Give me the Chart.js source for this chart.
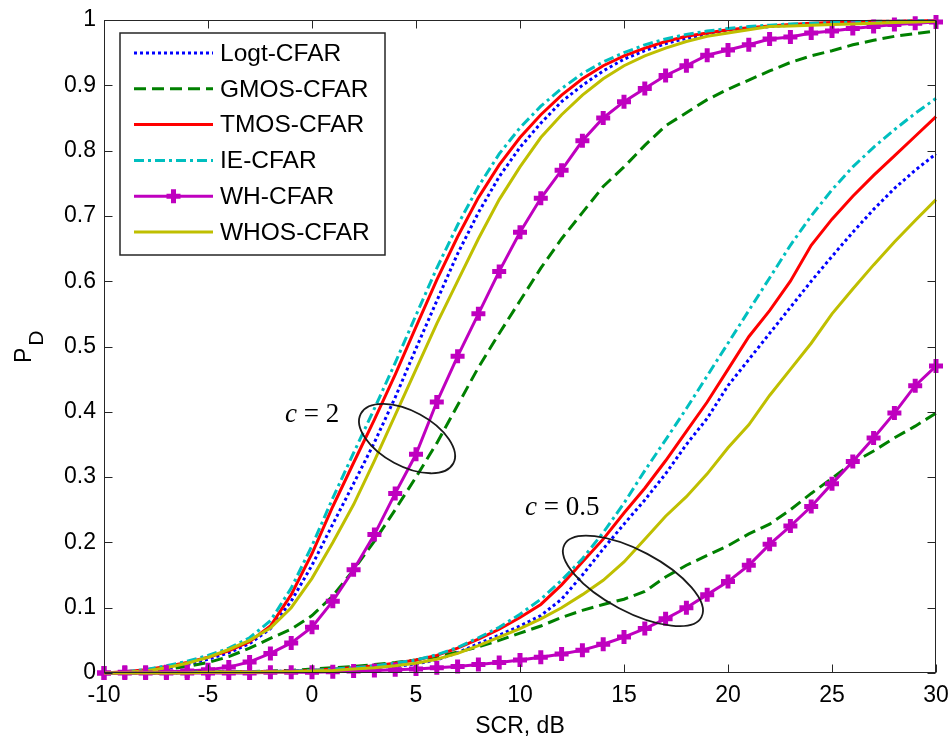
<!DOCTYPE html>
<html>
<head>
<meta charset="utf-8">
<script src="https://cdn.jsdelivr.net/npm/chart.js@4.4.1/dist/chart.umd.min.js"></script>
<style>
  html, body { margin: 0; padding: 0; background: #fff; }
  canvas { display: block; }
</style>
</head>
<body>
<canvas id="pdChart" width="952" height="742"></canvas>
<script>
// SCR grid (dB), one sample per dB
const snr = [-10, -9, -8, -7, -6, -5, -4, -3, -2, -1, 0, 1, 2, 3, 4, 5, 6, 7, 8, 9, 10,
  11, 12, 13, 14, 15, 16, 17, 18, 19, 20, 21, 22, 23, 24, 25, 26, 27, 28, 29, 30];

const xTicks = [-10, -5, 0, 5, 10, 15, 20, 25, 30];
const yTicks = [0, 0.1, 0.2, 0.3, 0.4, 0.5, 0.6, 0.7, 0.8, 0.9, 1];

const detectors = ['Logt-CFAR', 'GMOS-CFAR', 'TMOS-CFAR', 'IE-CFAR', 'WH-CFAR', 'WHOS-CFAR'];

// c = 2
const logtC2 = [0, 0.001, 0.003, 0.007, 0.013, 0.021, 0.031, 0.045, 0.068, 0.11,
  0.165, 0.228, 0.29, 0.353, 0.422, 0.497, 0.57, 0.642, 0.705, 0.76, 0.805,
  0.842, 0.875, 0.9, 0.922, 0.94, 0.953, 0.964, 0.972, 0.978, 0.983,
  0.987, 0.99, 0.992, 0.994, 0.995, 0.996, 0.997, 0.998, 0.998, 0.999];
const gmosC2 = [0, 0.001, 0.003, 0.006, 0.01, 0.016, 0.025, 0.038, 0.053, 0.067,
  0.088, 0.118, 0.158, 0.202, 0.25, 0.3, 0.352, 0.41, 0.468, 0.52, 0.57,
  0.62, 0.665, 0.705, 0.745, 0.775, 0.808, 0.838, 0.858, 0.878, 0.894,
  0.908, 0.922, 0.935, 0.945, 0.953, 0.962, 0.969, 0.975, 0.979, 0.983];
const tmosC2 = [0, 0.002, 0.005, 0.01, 0.016, 0.024, 0.034, 0.048, 0.072, 0.12,
  0.183, 0.255, 0.322, 0.388, 0.457, 0.53, 0.602, 0.668, 0.728, 0.778, 0.82,
  0.855, 0.885, 0.91, 0.93, 0.945, 0.957, 0.967, 0.975, 0.98, 0.985,
  0.988, 0.991, 0.993, 0.995, 0.996, 0.997, 0.998, 0.998, 0.999, 0.999];
const ieC2 = [0, 0.002, 0.005, 0.011, 0.018, 0.027, 0.038, 0.054, 0.08, 0.13,
  0.195, 0.268, 0.337, 0.405, 0.475, 0.548, 0.62, 0.686, 0.745, 0.795, 0.835,
  0.868, 0.895, 0.918, 0.936, 0.95, 0.962, 0.971, 0.978, 0.983, 0.987,
  0.99, 0.992, 0.994, 0.995, 0.996, 0.997, 0.998, 0.998, 0.999, 0.999];
const whC2 = [0, 0.001, 0.001, 0.002, 0.003, 0.005, 0.009, 0.017, 0.03, 0.046,
  0.07, 0.11, 0.158, 0.212, 0.275, 0.335, 0.415, 0.485, 0.55, 0.615, 0.675,
  0.727, 0.77, 0.815, 0.85, 0.875, 0.895, 0.915, 0.93, 0.946, 0.954,
  0.962, 0.971, 0.974, 0.98, 0.983, 0.987, 0.99, 0.993, 0.995, 0.997];
const whosC2 = [0, 0.001, 0.003, 0.008, 0.015, 0.024, 0.036, 0.05, 0.069, 0.1,
  0.145, 0.2, 0.258, 0.325, 0.395, 0.465, 0.535, 0.6, 0.665, 0.725, 0.775,
  0.82, 0.855, 0.885, 0.91, 0.93, 0.945, 0.957, 0.967, 0.975, 0.98,
  0.985, 0.99, 0.991, 0.992, 0.993, 0.994, 0.995, 0.996, 0.997, 0.998];

// c = 0.5
const logtC05 = [0, 0, 0, 0, 0.001, 0.001, 0.001, 0.002, 0.002, 0.003,
  0.004, 0.005, 0.007, 0.009, 0.01, 0.014, 0.02, 0.031, 0.045, 0.058, 0.072,
  0.088, 0.113, 0.15, 0.19, 0.228, 0.265, 0.305, 0.35, 0.39, 0.44,
  0.48, 0.52, 0.56, 0.6, 0.638, 0.675, 0.71, 0.742, 0.77, 0.795];
const gmosC05 = [0, 0, 0, 0, 0.001, 0.001, 0.002, 0.002, 0.003, 0.004,
  0.006, 0.008, 0.01, 0.013, 0.016, 0.02, 0.025, 0.032, 0.04, 0.05, 0.061,
  0.072, 0.085, 0.096, 0.105, 0.113, 0.125, 0.147, 0.165, 0.18, 0.195,
  0.213, 0.228, 0.25, 0.275, 0.298, 0.322, 0.34, 0.36, 0.378, 0.398];
const tmosC05 = [0, 0, 0, 0, 0.001, 0.001, 0.001, 0.002, 0.002, 0.003,
  0.004, 0.006, 0.008, 0.011, 0.015, 0.02, 0.027, 0.038, 0.052, 0.067, 0.085,
  0.105, 0.135, 0.17, 0.205, 0.245, 0.283, 0.325, 0.37, 0.415, 0.465,
  0.515, 0.555, 0.6, 0.655, 0.695, 0.73, 0.762, 0.792, 0.822, 0.852];
const ieC05 = [0, 0, 0, 0, 0.001, 0.001, 0.001, 0.002, 0.002, 0.003,
  0.004, 0.006, 0.008, 0.011, 0.015, 0.02, 0.028, 0.039, 0.054, 0.07, 0.09,
  0.113, 0.142, 0.175, 0.215, 0.26, 0.31, 0.357, 0.405, 0.455, 0.505,
  0.555, 0.605, 0.655, 0.7, 0.74, 0.775, 0.805, 0.832, 0.857, 0.88];
const whC05 = [0, 0, 0, 0, 0, 0, 0, 0, 0.001, 0.001,
  0.001, 0.002, 0.003, 0.004, 0.005, 0.006, 0.008, 0.01, 0.013, 0.016, 0.02,
  0.024, 0.029, 0.035, 0.044, 0.055, 0.068, 0.083, 0.1, 0.12, 0.14,
  0.165, 0.197, 0.225, 0.255, 0.29, 0.324, 0.36, 0.398, 0.44, 0.47];
const whosC05 = [0, 0, 0, 0, 0, 0.001, 0.001, 0.001, 0.002, 0.002,
  0.003, 0.004, 0.006, 0.008, 0.011, 0.015, 0.021, 0.03, 0.042, 0.055, 0.068,
  0.083, 0.1, 0.12, 0.142, 0.17, 0.205, 0.24, 0.27, 0.305, 0.345,
  0.38, 0.425, 0.465, 0.505, 0.55, 0.588, 0.625, 0.66, 0.693, 0.725];

const seriesC2 = [logtC2, gmosC2, tmosC2, ieC2, whC2, whosC2];
const seriesC05 = [logtC05, gmosC05, tmosC05, ieC05, whC05, whosC05];

// matlab-ish line styles, same order as detectors
const styles = [
  { color: '#0000ff', dash: [3, 3] },
  { color: '#008000', dash: [12, 6] },
  { color: '#ff0000', dash: [] },
  { color: '#00bfbf', dash: [10, 4, 3, 4] },
  { color: '#bf00bf', dash: [], marker: true },
  { color: '#bfbf00', dash: [] }
];

function makeDataset(label, values, st, idx) {
  return {
    label,
    data: snr.map((s, i) => ({ x: s, y: values[i] })),
    borderColor: st.color,
    backgroundColor: st.color,
    borderWidth: 3,
    borderDash: st.dash,
    tension: 0,
    clip: false,
    order: -idx,
    pointStyle: 'cross',
    pointRadius: st.marker ? 7 : 0,
    pointBorderWidth: 5,
    pointHoverRadius: st.marker ? 7 : 0,
    pointBorderColor: st.color
  };
}

const datasets = [];
detectors.forEach((name, i) => datasets.push(makeDataset(name, seriesC2[i], styles[i], i)));
detectors.forEach((name, i) => datasets.push(makeDataset(name + ' (c=0.5)', seriesC05[i], styles[i], i + 6)));

const FRAME = '#262626';

const framePlugin = {
  id: 'frame',
  afterDatasetsDraw(chart) {
    const { ctx, chartArea: a, scales: { x, y } } = chart;
    const L = Math.round(a.left) + 0.5, R = Math.round(a.right) - 0.5;
    const T = Math.round(a.top) + 0.5, B = Math.round(a.bottom) - 0.5;
    ctx.save();
    ctx.strokeStyle = FRAME;
    ctx.lineWidth = 1;
    ctx.setLineDash([]);
    ctx.strokeRect(L, T, R - L, B - T);
    ctx.beginPath();
    xTicks.forEach(v => {
      const px = Math.round(x.getPixelForValue(v)) + 0.5;
      ctx.moveTo(px, B); ctx.lineTo(px, B - 8);
      ctx.moveTo(px, T); ctx.lineTo(px, T + 8);
    });
    yTicks.forEach(v => {
      const py = Math.round(y.getPixelForValue(v)) + 0.5;
      ctx.moveTo(L, py); ctx.lineTo(L + 8, py);
      ctx.moveTo(R, py); ctx.lineTo(R - 8, py);
    });
    ctx.stroke();
    ctx.restore();
  }
};

// ellipse groups with "c = ..." notes
const groups = [
  { c: '2', at: [4.57, 0.359], rx: 52.5, ry: 27.4, rot: 28.4, dx: -122, dy: -17 },
  { c: '0.5', at: [15.43, 0.141], rx: 77.5, ry: 30.6, rot: 27.9, dx: -108, dy: -66 }
];

const notesPlugin = {
  id: 'notes',
  afterDatasetsDraw(chart) {
    const { ctx, scales: { x, y } } = chart;
    ctx.save();
    groups.forEach(g => {
      const cx = x.getPixelForValue(g.at[0]);
      const cy = y.getPixelForValue(g.at[1]);
      ctx.beginPath();
      ctx.setLineDash([]);
      ctx.strokeStyle = '#1a1a1a';
      ctx.lineWidth = 1.8;
      ctx.ellipse(cx, cy, g.rx, g.ry, g.rot * Math.PI / 180, 0, Math.PI * 2);
      ctx.stroke();

      const tx = cx + g.dx, ty = cy + g.dy;
      ctx.fillStyle = '#000';
      ctx.textBaseline = 'alphabetic';
      ctx.textAlign = 'left';
      ctx.font = 'italic 27px "Liberation Serif", serif';
      ctx.fillText('c', tx, ty);
      const w = ctx.measureText('c').width;
      ctx.font = '27px "Liberation Serif", serif';
      ctx.fillText(' = ' + g.c, tx + w, ty);
    });
    ctx.restore();
  }
};

const legendPlugin = {
  id: 'boxLegend',
  afterDraw(chart) {
    const { ctx, chartArea: a } = chart;
    const left = a.left + 16, top = a.top + 13;
    const width = 265, height = 222;
    ctx.save();
    ctx.fillStyle = '#fff';
    ctx.fillRect(left, top, width, height);
    ctx.strokeStyle = FRAME;
    ctx.lineWidth = 1.5;
    ctx.setLineDash([]);
    ctx.strokeRect(left, top, width, height);

    chart.data.datasets.slice(0, detectors.length).forEach((ds, i) => {
      const ly = top + 20 + i * 35.8;
      const x0 = left + 14, x1 = left + 93;
      ctx.strokeStyle = ds.borderColor;
      ctx.lineWidth = ds.borderWidth;
      ctx.setLineDash(ds.borderDash);
      ctx.beginPath();
      ctx.moveTo(x0, ly);
      ctx.lineTo(x1, ly);
      ctx.stroke();
      if (ds.pointRadius > 0) {
        ctx.setLineDash([]);
        ctx.lineWidth = ds.pointBorderWidth;
        Chart.helpers.drawPoint(ctx, { pointStyle: 'cross', radius: ds.pointRadius, borderWidth: ds.pointBorderWidth, rotation: 0 }, (x0 + x1) / 2, ly);
      }
      ctx.fillStyle = '#000';
      ctx.font = '24.5px "Liberation Sans", Arial, sans-serif';
      ctx.textBaseline = 'middle';
      ctx.textAlign = 'left';
      ctx.fillText(ds.label, left + 100, ly + 1);
    });

    // y axis label P_D
    ctx.fillStyle = '#000';
    ctx.translate(31, 363);
    ctx.rotate(-Math.PI / 2);
    ctx.textBaseline = 'alphabetic';
    ctx.textAlign = 'left';
    ctx.font = '23px "Liberation Sans", Arial, sans-serif';
    ctx.fillText('P', 0, 0);
    const pw = ctx.measureText('P').width;
    ctx.font = '21px "Liberation Sans", Arial, sans-serif';
    ctx.fillText('D', pw + 2, 12);
    ctx.restore();
  }
};

const tickFont = { family: '"Liberation Sans", Arial, sans-serif', size: 23 };

new Chart(document.getElementById('pdChart'), {
  type: 'line',
  data: { datasets },
  options: {
    responsive: false,
    animation: false,
    devicePixelRatio: 1,
    events: [],
    layout: { padding: { top: 20, right: 16, left: 0, bottom: 0 } },
    plugins: { legend: { display: false }, tooltip: { enabled: false } },
    scales: {
      x: {
        type: 'linear',
        min: -10,
        max: 30,
        grid: { display: false, drawTicks: false },
        border: { display: false },
        afterBuildTicks: s => { s.ticks = xTicks.map(v => ({ value: v })); },
        afterFit: s => { s.height = 69; s.paddingLeft = 0; s.paddingRight = 0; },
        ticks: { color: '#000', font: tickFont, padding: 9, maxRotation: 0, autoSkip: false, callback: v => String(v) },
        title: { display: true, text: 'SCR, dB', color: '#000', font: tickFont, padding: { top: 0, bottom: 2 } }
      },
      y: {
        type: 'linear',
        min: 0,
        max: 1,
        grid: { display: false, drawTicks: false },
        border: { display: false },
        afterBuildTicks: s => { s.ticks = yTicks.map(v => ({ value: v })); },
        afterFit: s => { s.width = 104; s.paddingTop = 0; s.paddingBottom = 0; },
        ticks: { color: '#000', font: tickFont, padding: 8, autoSkip: false, callback: v => String(v) }
      }
    }
  },
  plugins: [framePlugin, notesPlugin, legendPlugin]
});
</script>
</body>
</html>
